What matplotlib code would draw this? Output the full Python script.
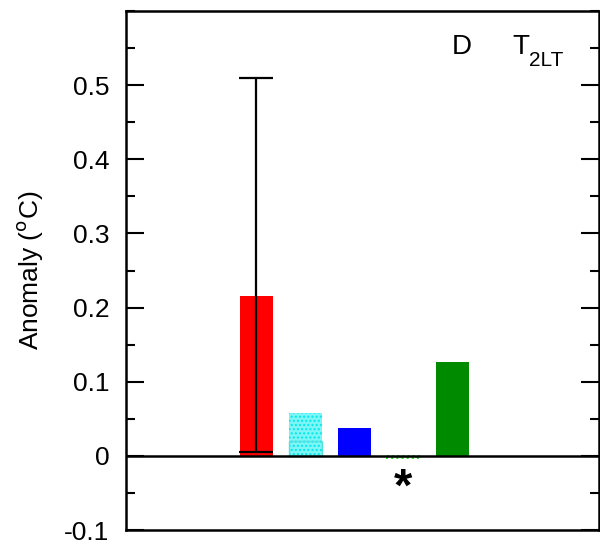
import matplotlib as mpl
mpl.use('Agg')
import matplotlib.pyplot as plt
from matplotlib.ticker import MultipleLocator

mpl.rcParams['font.family'] = ['Liberation Sans', 'DejaVu Sans']

# -- Bar data (anomaly in degC)
positions  = [1, 2, 3, 4, 5]
values     = [0.215, 0.058, 0.038, -0.003, 0.127]
colors     = ['#ff0000', '#7ff5f5', '#0000ff', '#c8ffc8', '#008a00']
hatches    = [None, '....', None, '....', None]
edges      = ['#ff0000', '#00e8e8', '#0000ff', '#22dd22', '#008a00']
inner_val  = 0.02            # secondary level drawn inside the cyan bar
err_low    = 0.005
err_high   = 0.51
star_pos   = 4

fig = plt.figure(figsize=(6.0, 5.44), dpi=100)
ax = fig.add_axes([0.21, 0.0257, 0.788, 0.954])

for p, v, c, h, e in zip(positions, values, colors, hatches, edges):
    if p == star_pos:
        ax.bar(p, v, width=0.67, color=c, hatch=h, edgecolor=e,
               linewidth=1.4, linestyle=':', zorder=2)
    else:
        ax.bar(p, v, width=0.67, color=c, hatch=h, edgecolor=e,
               linewidth=0, zorder=2)

ax.bar(positions[1], inner_val, width=0.67, facecolor='none',
       edgecolor='#55e0e0', linewidth=1, zorder=3)

# -- Range bar on the first column
ax.errorbar(positions[0], values[0],
            yerr=[[values[0] - err_low], [err_high - values[0]]],
            fmt='none', ecolor='black', elinewidth=1.6, capsize=12,
            capthick=1.6, zorder=4)

ax.axhline(0, color='black', linewidth=1.8, zorder=5)
ax.text(star_pos, -0.014, '*', ha='center', va='top', fontsize=34,
        fontweight='bold')

ax.set_xlim(-1.66, 7.99)
ax.set_ylim(-0.1, 0.6)
ax.set_xticks([])
ax.yaxis.set_major_locator(MultipleLocator(0.1))
ax.yaxis.set_minor_locator(MultipleLocator(0.05))
ax.set_yticks([-0.1, 0, 0.1, 0.2, 0.3, 0.4, 0.5])
ax.set_yticklabels(['-0.1', '0', '0.1', '0.2', '0.3', '0.4', '0.5'])
ax.tick_params(axis='y', which='both', direction='in', right=True,
               labelsize=19, width=1.5, pad=12)
ax.tick_params(axis='y', which='major', length=13)
ax.tick_params(axis='y', which='minor', length=6.5)
for s in ax.spines.values():
    s.set_linewidth(1.8)

ax.set_ylabel(r'Anomaly ($^{\rm o}$C)', fontsize=19, labelpad=14)

ax.text(0.71, 0.93, 'D', transform=ax.transAxes, fontsize=20,
        ha='center', va='center')
ax.text(0.818, 0.93, 'T', transform=ax.transAxes, fontsize=20,
        ha='left', va='center')
ax.text(0.852, 0.905, '2LT', transform=ax.transAxes, fontsize=15,
        ha='left', va='center')

fig.savefig('out.png', dpi=100)
